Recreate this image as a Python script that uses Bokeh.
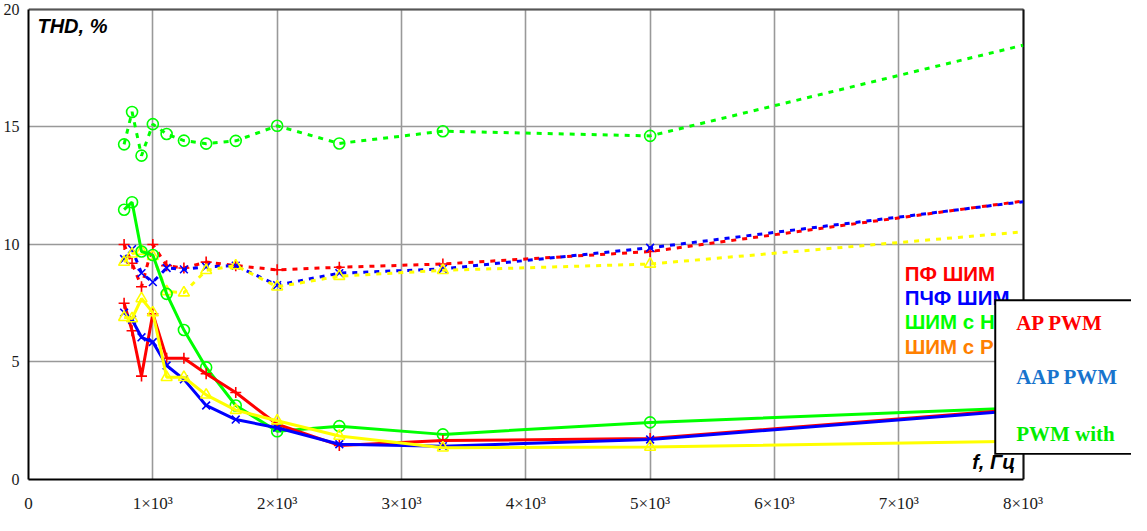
from bokeh.plotting import figure
from bokeh.models import Range1d, FixedTicker, Label, BoxAnnotation, ColumnDataSource, Grid
from bokeh.embed import file_html
from bokeh.resources import INLINE

# ---------------- data ----------------
FREQ = [769, 833, 909, 1000, 1111, 1250, 1429, 1667, 2000, 2500, 3333, 5000, 8000]

# dashed series
AP_DASH = [10.0, 9.2, 8.2, 10.0, 9.1, 9.0, 9.25, 9.1, 8.92, 9.03, 9.17, 9.7, 11.85]
AAP_DASH = [9.38, 9.8, 8.78, 8.4, 9.0, 8.94, 9.05, 9.1, 8.27, 8.78, 8.96, 9.86, 11.82]
NH_DASH = [14.26, 15.64, 13.78, 15.12, 14.7, 14.42, 14.29, 14.41, 15.05, 14.3, 14.82, 14.62, 18.48]
RS_DASH = [9.25, 9.6, 9.72, 9.5, 8.0, 7.95, 8.9, 9.1, 8.2, 8.65, 8.9, 9.17, 10.54]

# solid series
AP_SOLID = [7.5, 6.33, 4.4, 7.05, 5.16, 5.16, 4.5, 3.7, 2.35, 1.45, 1.66, 1.74, 3.0]
AAP_SOLID = [7.1, 6.8, 6.05, 5.85, 4.85, 4.26, 3.15, 2.55, 2.2, 1.5, 1.42, 1.7, 2.95]
NH_SOLID = [11.48, 11.8, 9.7, 9.55, 7.9, 6.36, 4.77, 3.15, 2.05, 2.27, 1.92, 2.43, 3.05]
RS_SOLID = [6.9, 6.85, 7.7, 7.1, 4.35, 4.35, 3.6, 2.95, 2.5, 1.85, 1.35, 1.38, 1.63]

X_TICKS = [0, 1000, 2000, 3000, 4000, 5000, 6000, 7000, 8000]
X_TICK_LABELS = ["0", "1×10³", "2×10³", "3×10³", "4×10³", "5×10³", "6×10³", "7×10³", "8×10³"]
Y_TICKS = [0, 5, 10, 15, 20]
Y_TICK_LABELS = ["0", "5", "10", "15", "20"]

LEGEND_RU = ["ПФ ШИМ", "ПЧФ ШИМ", "ШИМ с Н", "ШИМ с Р"]
LEGEND_RU_COLORS = ["#ff0000", "#0000ff", "#00ff00", "#ff8000"]
LEGEND_EN = ["AP PWM", "AAP PWM", "PWM with"]
LEGEND_EN_COLORS = ["#ff0000", "#1874cd", "#00ee00"]

RED, BLUE, GREEN, YELLOW = "#ff0000", "#0000ff", "#00ff00", "#ffff00"

X_MAX, Y_MAX = 8000, 20
X_VIEW_END = 8872      # frame extends past the 8000 border (room for the overlay box)
Y_VIEW_END = 20.084    # a little headroom so the top border is not clipped

# ---------------- figure ----------------
p = figure(width=1131, height=515, output_backend="svg", toolbar_location=None,
           x_range=Range1d(0, X_VIEW_END), y_range=Range1d(0, Y_VIEW_END),
           min_border_left=22, min_border_right=0, min_border_top=7, min_border_bottom=29)
p.background_fill_color = "white"
p.border_fill_color = "white"
p.outline_line_color = None

p.xaxis.ticker = FixedTicker(ticks=X_TICKS)
p.xaxis.major_label_overrides = {t: l for t, l in zip(X_TICKS, X_TICK_LABELS)}
p.yaxis.ticker = FixedTicker(ticks=Y_TICKS)
p.yaxis.major_label_overrides = {t: l for t, l in zip(Y_TICKS, Y_TICK_LABELS)}
p.xaxis.bounds = (0, X_MAX)
p.yaxis.bounds = (0, Y_MAX)
for ax in (p.xaxis, p.yaxis):
    ax.major_tick_line_color = None
    ax.minor_tick_line_color = None
    ax.axis_line_color = "black"
    ax.axis_line_width = 2
    ax.major_label_text_font = "Liberation Serif"
    ax.major_label_text_color = "#1a1a1a"
p.xaxis.major_label_text_font_size = "17px"
p.yaxis.major_label_text_font_size = "16px"
p.xaxis.major_label_standoff = 8
p.yaxis.major_label_standoff = 3

has_cross = "cross_bounds" in Grid.properties()

p.xgrid.grid_line_color = "#999999"
p.ygrid.grid_line_color = "#999999"
p.xgrid.grid_line_width = 1.6
p.ygrid.grid_line_width = 1.6
if has_cross:
    p.xgrid.cross_bounds = (0, Y_MAX)
    p.ygrid.cross_bounds = (0, X_MAX)
    # top and right borders of the plotting box
    p.add_layout(Grid(dimension=1, ticker=FixedTicker(ticks=[Y_MAX]), cross_bounds=(0, X_MAX),
                      grid_line_color="#555555", grid_line_width=2))
    p.add_layout(Grid(dimension=0, ticker=FixedTicker(ticks=[X_MAX]), cross_bounds=(0, Y_MAX),
                      grid_line_color="#111111", grid_line_width=2))
else:
    p.xgrid.visible = False
    p.ygrid.visible = False
    p.segment(x0=X_TICKS, x1=X_TICKS, y0=[0] * len(X_TICKS), y1=[Y_MAX] * len(X_TICKS),
              line_color="#999999", line_width=1.6)
    p.segment(x0=[0] * len(Y_TICKS), x1=[X_MAX] * len(Y_TICKS), y0=Y_TICKS, y1=Y_TICKS,
              line_color="#999999", line_width=1.6)
    p.segment(x0=[0], x1=[X_MAX], y0=[Y_MAX], y1=[Y_MAX], line_color="#555555", line_width=2)
    p.segment(x0=[X_MAX], x1=[X_MAX], y0=[0], y1=[Y_MAX], line_color="#111111", line_width=2)

src = ColumnDataSource(dict(f=FREQ, ap_d=AP_DASH, aap_d=AAP_DASH, nh_d=NH_DASH, rs_d=RS_DASH,
                            ap_s=AP_SOLID, aap_s=AAP_SOLID, nh_s=NH_SOLID, rs_s=RS_SOLID))
msrc = ColumnDataSource(dict(f=FREQ[:-1], ap_d=AP_DASH[:-1], aap_d=AAP_DASH[:-1], nh_d=NH_DASH[:-1],
                             rs_d=RS_DASH[:-1], ap_s=AP_SOLID[:-1], aap_s=AAP_SOLID[:-1],
                             nh_s=NH_SOLID[:-1], rs_s=RS_SOLID[:-1]))

DASH = "5 6"
series = [
    ("ap_d", RED, DASH, "cross"),
    ("aap_d", BLUE, DASH, "x"),
    ("rs_d", YELLOW, DASH, "triangle"),
    ("nh_d", GREEN, DASH, "circle"),
    ("nh_s", GREEN, "solid", "circle"),
    ("ap_s", RED, "solid", "cross"),
    ("aap_s", BLUE, "solid", "x"),
    ("rs_s", YELLOW, "solid", "triangle"),
]
for col, color, dash, marker in series:
    p.line("f", col, source=src, line_color=color, line_width=3, line_dash=dash)
    p.scatter("f", col, source=msrc, marker=marker, size=11, line_color=color,
              fill_color=None, line_width=1.6)

# axis titles
p.add_layout(Label(x=72, y=19.75, text="THD, %", text_font="Liberation Sans",
                   text_font_size="20px", text_font_style="bold italic",
                   text_color="black", text_baseline="top"))
p.add_layout(Label(x=7936, y=0.29, text="f, Гц", text_font="Liberation Sans",
                   text_font_size="20px", text_font_style="bold italic",
                   text_color="black", text_align="right", text_baseline="bottom"))

# Russian legend
ru_y = [8.76, 7.76, 6.71, 5.66]
for t, c, yy in zip(LEGEND_RU, LEGEND_RU_COLORS, ru_y):
    p.add_layout(Label(x=7048, y=yy, text=t, text_font="Liberation Sans",
                       text_font_size="20.5px", text_font_style="bold",
                       text_color=c, text_baseline="middle"))

# overlay box with English legend (black frame = black box under a white box)
p.add_layout(BoxAnnotation(left=7768, right=X_VIEW_END + 400, bottom=1.05, top=7.67,
                           fill_color="black", fill_alpha=1.0, line_color=None))
p.add_layout(BoxAnnotation(left=7784, right=X_VIEW_END + 400, bottom=1.13, top=7.59,
                           fill_color="white", fill_alpha=1.0, line_color=None))
en_y = [6.67, 4.36, 1.93]
for t, c, yy in zip(LEGEND_EN, LEGEND_EN_COLORS, en_y):
    p.add_layout(Label(x=7944, y=yy, text=t, text_font="Liberation Serif",
                       text_font_size="21px", text_font_style="bold",
                       text_color=c, text_baseline="middle"))

open("out.html", "w").write(file_html(p, INLINE))
